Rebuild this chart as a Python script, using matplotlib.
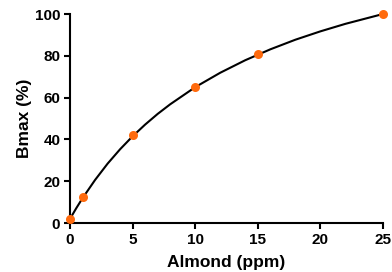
import matplotlib
matplotlib.use('Agg')
import matplotlib.pyplot as plt

plt.rcParams['font.family'] = ['Liberation Sans', 'DejaVu Sans']
plt.rcParams['font.weight'] = 'bold'

# measured points
almond_ppm = [0, 1, 5, 10, 15, 25]
bmax_pct = [2.1, 12.5, 42.0, 64.9, 80.8, 100.0]

# fitted curve
curve_x = [0, 0.5, 1, 2, 3, 4, 5, 6, 7, 8, 10, 12, 14, 16, 18, 20, 22, 25]
curve_y = [2.0, 7.1, 11.9, 20.6, 28.4, 35.3, 41.5, 47.1, 52.2, 56.8,
           65.0, 71.9, 77.9, 83.1, 87.7, 91.7, 95.3, 100.0]

xticks = [0, 5, 10, 15, 20, 25]
yticks = [0, 20, 40, 60, 80, 100]

fig = plt.figure(figsize=(3.92, 2.72), dpi=100)
ax = fig.add_axes([0.1786, 0.18, 0.7984, 0.7685])

ax.plot(curve_x, curve_y, color='black', linewidth=1.5, zorder=2, clip_on=False)
ax.plot(almond_ppm, bmax_pct, 'o', color='#FF6A0D', markersize=6.5,
        markeredgewidth=0, zorder=3, clip_on=False)

ax.set_xlim(0, 25)
ax.set_ylim(0, 100)
ax.set_xticks(xticks)
ax.set_yticks(yticks)

for side in ['top', 'right']:
    ax.spines[side].set_visible(False)
for side in ['left', 'bottom']:
    ax.spines[side].set_linewidth(1.5)

ax.tick_params(axis='both', direction='out', length=4, width=1.5,
               labelsize=11, pad=3)
for lbl in ax.get_xticklabels() + ax.get_yticklabels():
    lbl.set_fontweight('bold')

ax.set_xlabel('Almond (ppm)', fontsize=12.5, fontweight='bold', labelpad=6)
ax.set_ylabel('Bmax (%)', fontsize=12.5, fontweight='bold', labelpad=2)

plt.savefig('out.png', dpi=100)
plt.close()
